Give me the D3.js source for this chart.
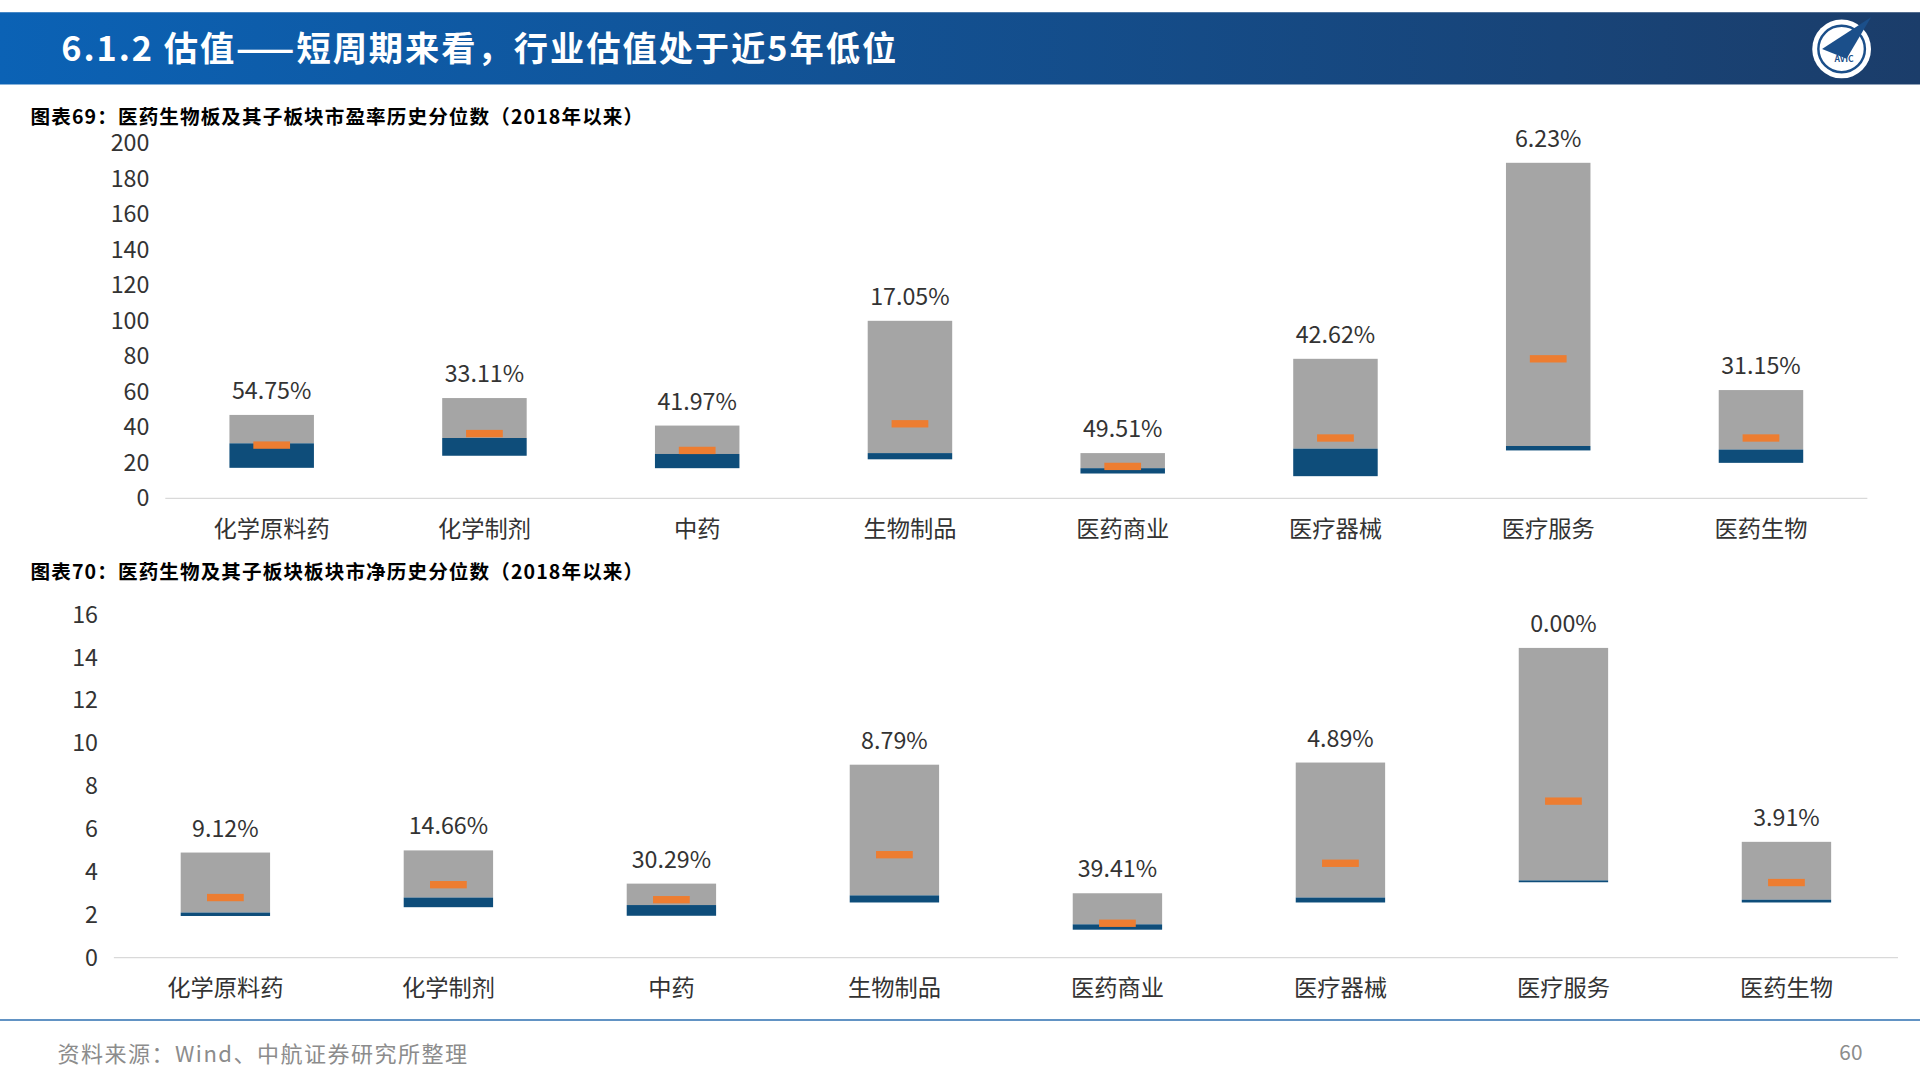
<!DOCTYPE html>
<html><head><meta charset="utf-8">
<script src="https://cdn.jsdelivr.net/npm/d3@7"></script>
<style>body{margin:0;background:#fff}svg{display:block}text{font-family:"Noto Sans CJK SC","Noto Sans",sans-serif}</style>
</head><body>
<svg id="c" width="1920" height="1080" viewBox="0 0 1568 882"></svg>
<script>
const categories = ["化学原料药","化学制剂","中药","生物制品","医药商业","医疗器械","医疗服务","医药生物"];
// PE chart
const peMin = [17.2,24,17,22,14,12.5,27,20];
const peCur = [31,34,25,25.5,17,28,29.5,27.5];
const peMax = [47,56.5,41,100,25.5,78.6,189,61];
const peMed = [30,36.5,27,42,18,34,78.6,34];
const peLabels = ["54.75%","33.11%","41.97%","17.05%","49.51%","42.62%","6.23%","31.15%"];
const peTicks = [0,20,40,60,80,100,120,140,160,180,200];
// PB chart
const pbMin = [1.94,2.35,1.95,2.57,1.3,2.57,3.55,2.57];
const pbCur = [2.1,2.8,2.45,2.9,1.55,2.8,3.6,2.7];
const pbMax = [4.9,5.0,3.45,9.0,3.0,9.1,14.45,5.4];
const pbMed = [2.8,3.4,2.7,4.8,1.6,4.4,7.3,3.5];
const pbLabels = ["9.12%","14.66%","30.29%","8.79%","39.41%","4.89%","0.00%","3.91%"];
const pbTicks = [0,2,4,6,8,10,12,14,16];

const svg = d3.select("#c");
const defs = svg.append("defs");
const g = defs.append("linearGradient").attr("id","hg");
g.append("stop").attr("offset","0").attr("stop-color","#0b62b5");
g.append("stop").attr("offset","1").attr("stop-color","#1b3d6a");
svg.append("rect").attr("x",0).attr("y",10).attr("width",1568).attr("height",59).attr("fill","url(#hg)");
svg.append("text").attr("x",50).attr("y",50).attr("fill","#fff").attr("font-size",28).attr("font-weight","bold").attr("letter-spacing",1.6).text("6.1.2 估值——短周期来看，行业估值处于近5年低位");
svg.append("circle").attr("cx",1504).attr("cy",40).attr("r",24).attr("fill","#fff");
svg.append("circle").attr("cx",1504).attr("cy",40).attr("r",19).attr("fill","none").attr("stroke","#1b4f8a").attr("stroke-width",2);
svg.append("path").attr("d","M1488,40 L1528,14 L1508,48 Z").attr("fill","#1b4f8a");
svg.append("text").attr("x",1506).attr("y",51).attr("text-anchor","middle").attr("font-size",7).attr("fill","#1b4f8a").attr("font-weight","bold").text("AVIC");

function chart(o){
  const x = d3.scaleBand().domain(categories).range([o.x0,o.x1]);
  const y = d3.scaleLinear().domain([0,o.ticks[o.ticks.length-1]]).range([o.y0,o.yTop]);
  const cx = d=>x(d)+x.bandwidth()/2;
  svg.append("text").attr("x",25).attr("y",o.titleY).attr("font-size",16).attr("font-weight","bold").attr("letter-spacing",0.9).attr("fill","#000").text(o.title);
  const ya = svg.append("g").attr("transform",`translate(${o.yAxisX},0)`).call(d3.axisLeft(y).tickValues(o.ticks).tickSize(0).tickPadding(0));
  ya.select(".domain").remove();
  ya.selectAll("text").attr("font-size",19).attr("fill","#333").attr("text-anchor","end");
  svg.append("line").attr("x1",o.x0).attr("x2",o.x1).attr("y1",o.y0).attr("y2",o.y0).attr("stroke","#d9d9d9");
  const xa = svg.append("g").attr("transform",`translate(0,${o.y0})`).call(d3.axisBottom(x).tickSize(0).tickPadding(18));
  xa.select(".domain").remove();
  xa.selectAll("text").attr("font-size",19).attr("fill","#333");
  const w=o.bw;
  categories.forEach((c,i)=>{
    svg.append("rect").attr("x",cx(c)-w/2).attr("y",y(o.max[i])).attr("width",w).attr("height",y(o.cur[i])-y(o.max[i])).attr("fill","#a5a5a5");
    svg.append("rect").attr("x",cx(c)-w/2).attr("y",y(o.cur[i])).attr("width",w).attr("height",Math.max(1.5,y(o.min[i])-y(o.cur[i]))).attr("fill","#0e4d7a");
    svg.append("rect").attr("x",cx(c)-15).attr("y",y(o.med[i])-3).attr("width",30).attr("height",6).attr("fill","#ed7d31");
    svg.append("text").attr("x",cx(c)).attr("y",y(o.max[i])-13).attr("text-anchor","middle").attr("font-size",19).attr("fill","#333").text(o.labels[i]);
  });
}
chart({x0:135,x1:1525,y0:407,yTop:117,yAxisX:122,ticks:peTicks,min:peMin,cur:peCur,max:peMax,med:peMed,labels:peLabels,bw:69,titleY:101,title:"图表69：医药生物板及其子板块市盈率历史分位数（2018年以来）"});
chart({x0:93,x1:1550,y0:782,yTop:502,yAxisX:80,ticks:pbTicks,min:pbMin,cur:pbCur,max:pbMax,med:pbMed,labels:pbLabels,bw:73,titleY:473,title:"图表70：医药生物及其子板块板块市净历史分位数（2018年以来）"});
svg.append("line").attr("x1",0).attr("x2",1568).attr("y1",833).attr("y2",833).attr("stroke","#2e6fb0").attr("stroke-width",1.2);
svg.append("text").attr("x",47).attr("y",867).attr("font-size",18).attr("letter-spacing",1.2).attr("fill","#8c8c8c").text("资料来源：Wind、中航证券研究所整理");
svg.append("text").attr("x",1521).attr("y",866).attr("text-anchor","end").attr("font-size",17).attr("fill","#8c8c8c").text("60");
</script>
</body></html>
